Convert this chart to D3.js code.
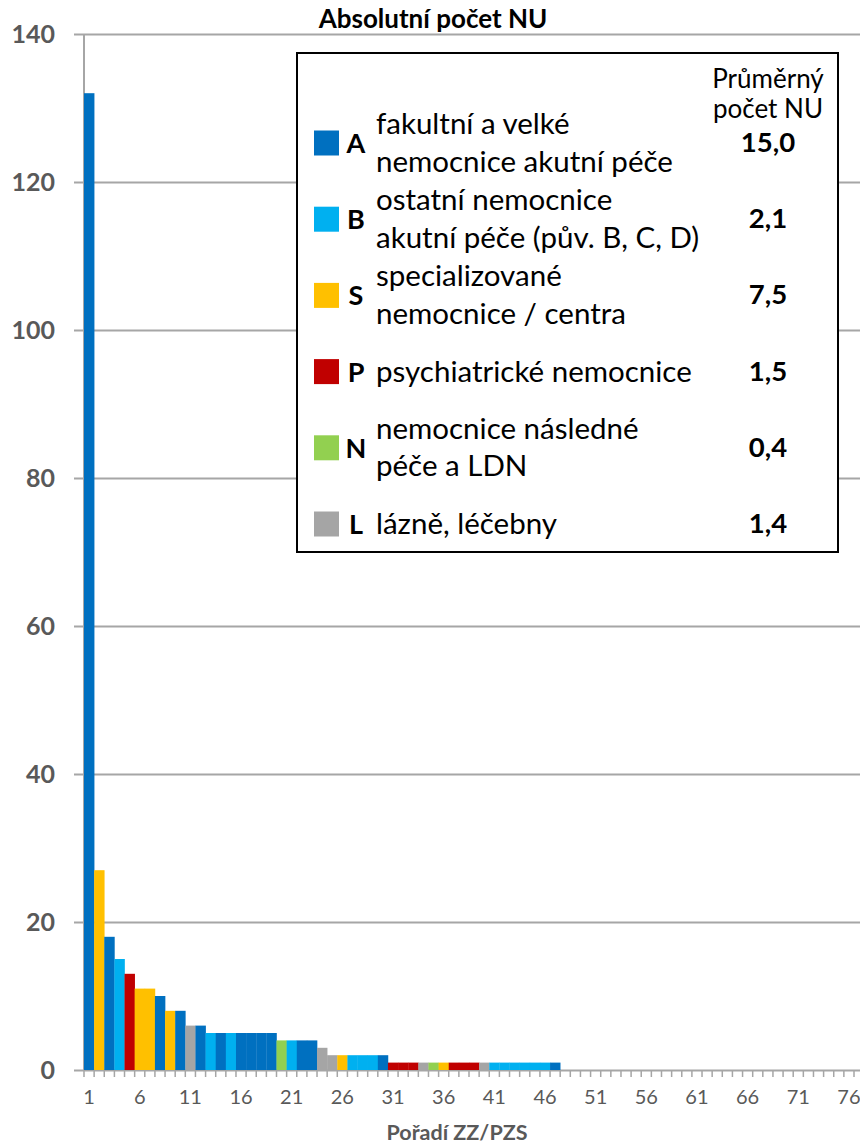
<!DOCTYPE html>
<html>
<head>
<meta charset="utf-8">
<script src="https://cdn.jsdelivr.net/npm/d3@7"></script>
<style>
    body { margin: 0; background: #fff; }
    svg { display: block; font-family: Lato, "Open Sans", sans-serif; }
</style>
</head>
<body>
<div id="chart"></div>
<script>
// values of the bars, in rank order (ranks 48-76 are zero)
const values = [132, 27, 18, 15, 13, 11, 11, 10, 8, 8,
    6, 6, 5, 5, 5, 5, 5, 5, 5, 4,
    4, 4, 4, 3, 2, 2, 2, 2, 2, 2,
    1, 1, 1, 1, 1, 1, 1, 1, 1, 1,
    1, 1, 1, 1, 1, 1, 1];
// hospital type of each bar
const types = ['A', 'S', 'A', 'B', 'P', 'S', 'S', 'A', 'S', 'A',
    'L', 'A', 'B', 'A', 'B', 'A', 'A', 'A', 'A', 'N',
    'B', 'A', 'A', 'L', 'L', 'S', 'B', 'B', 'B', 'A',
    'P', 'P', 'P', 'L', 'N', 'S', 'P', 'P', 'P', 'L',
    'B', 'B', 'B', 'B', 'B', 'B', 'A'];
const rankCount = 76;
const yTicks = [0, 20, 40, 60, 80, 100, 120, 140];

// legend
const legendKeys = ['A', 'B', 'S', 'P', 'N', 'L'];
const legendLabels = [
    ['fakultní a velké', 'nemocnice akutní péče'],
    ['ostatní nemocnice', 'akutní péče (pův. B, C, D)'],
    ['specializované', 'nemocnice / centra'],
    ['psychiatrické nemocnice'],
    ['nemocnice následné', 'péče a LDN'],
    ['lázně, léčebny']
];
const legendAverages = ['15,0', '2,1', '7,5', '1,5', '0,4', '1,4'];

const colors = {
    A: '#0070C0',
    B: '#00B0F0',
    S: '#FFC000',
    P: '#C00000',
    N: '#92D050',
    L: '#A5A5A5'
};

const w = 860, h = 1144;
const margin = {top: 34, right: 6, bottom: 74, left: 84};
const gridColor = '#a6a6a6',
    labelColor = '#595959';

const svg = d3.select('#chart')
    .append('svg')
    .attr('width', w)
    .attr('height', h);

const ranks = d3.range(1, rankCount + 1);

const xScale = d3.scaleBand()
    .domain(ranks)
    .range([margin.left, w - margin.right])
    .padding(0);

const yScale = d3.scaleLinear()
    .domain([0, 140])
    .range([h - margin.bottom, margin.top]);

// gridlines + y labels
const yAxis = d3.axisLeft(yScale)
    .tickValues(yTicks)
    .tickSize(-(w - margin.left + 10))
    .tickPadding(19)
    .tickFormat(d3.format('d'));

const gy = svg.append('g')
    .attr('transform', 'translate(' + (margin.left - 10) + ',0)')
    .call(yAxis);
gy.select('.domain').remove();
gy.selectAll('line')
    .attr('stroke', gridColor)
    .attr('stroke-width', 2);
gy.selectAll('text')
    .attr('fill', labelColor)
    .attr('font-size', 25)
    .attr('font-weight', 'bold')
    .attr('font-family', 'Lato, sans-serif');

// vertical axis line
svg.append('line')
    .attr('x1', margin.left).attr('x2', margin.left)
    .attr('y1', yScale(140)).attr('y2', yScale(0))
    .attr('stroke', gridColor)
    .attr('stroke-width', 2);

// bars
svg.append('g')
    .selectAll('rect')
    .data(values)
    .enter()
    .append('rect')
    .attr('x', (d, i) => xScale(i + 1))
    .attr('y', d => yScale(d))
    .attr('width', xScale.bandwidth() + 0.3)
    .attr('height', d => yScale(0) - yScale(d))
    .attr('fill', (d, i) => colors[types[i]]);

// x axis: tick marks between ranks, labels every 5
const tickPos = d3.range(0, rankCount + 1);
svg.append('g')
    .selectAll('line')
    .data(tickPos)
    .enter()
    .append('line')
    .attr('x1', d => margin.left + d * xScale.step())
    .attr('x2', d => margin.left + d * xScale.step())
    .attr('y1', yScale(0))
    .attr('y2', yScale(0) + 7)
    .attr('stroke', gridColor)
    .attr('stroke-width', 1.5);

const xLabels = ranks.filter(d => (d - 1) % 5 === 0);
svg.append('g')
    .selectAll('text')
    .data(xLabels)
    .enter()
    .append('text')
    .attr('x', d => xScale(d) + xScale.bandwidth() / 2)
    .attr('y', yScale(0) + 34)
    .attr('text-anchor', 'middle')
    .attr('fill', labelColor)
    .attr('font-size', 20)
    .text(d => d);

// titles
svg.append('text')
    .attr('x', 433)
    .attr('y', 28)
    .attr('text-anchor', 'middle')
    .attr('font-size', 26)
    .attr('font-weight', 'bold')
    .attr('fill', '#000')
    .text('Absolutní počet NU');

svg.append('text')
    .attr('x', 457)
    .attr('y', 1140)
    .attr('text-anchor', 'middle')
    .attr('font-size', 21.5)
    .attr('font-weight', 'bold')
    .attr('fill', labelColor)
    .text('Pořadí ZZ/PZS');

// legend box
const legend = svg.append('g');
legend.append('rect')
    .attr('x', 297)
    .attr('y', 53)
    .attr('width', 541)
    .attr('height', 499)
    .attr('fill', '#fff')
    .attr('stroke', '#000')
    .attr('stroke-width', 2);

legend.append('text')
    .attr('x', 768)
    .attr('y', 88)
    .attr('text-anchor', 'middle')
    .attr('font-size', 26)
    .attr('fill', '#000')
    .text('Průměrný');
legend.append('text')
    .attr('x', 768)
    .attr('y', 118)
    .attr('text-anchor', 'middle')
    .attr('font-size', 26)
    .attr('fill', '#000')
    .text('počet NU');

const legendY = d3.scalePoint()
    .domain(legendKeys)
    .range([143, 524]);

legendKeys.forEach((k, i) => {
    const cy = legendY(k);
    const row = legend.append('g');
    row.append('rect')
        .attr('x', 314)
        .attr('y', cy - 12.5)
        .attr('width', 25)
        .attr('height', 25)
        .attr('fill', colors[k]);
    row.append('text')
        .attr('x', 356)
        .attr('y', cy + 10)
        .attr('text-anchor', 'middle')
        .attr('font-size', 27)
        .attr('font-weight', 'bold')
        .attr('fill', '#000')
        .text(k);
    const lines = legendLabels[i];
    lines.forEach((t, j) => {
        const base = lines.length === 1 ? cy + 10 : cy - 9 + j * 37.5;
        row.append('text')
            .attr('x', 376)
            .attr('y', base)
            .attr('font-size', 29.5)
            .attr('fill', '#000')
            .text(t);
    });
    row.append('text')
        .attr('x', 768)
        .attr('y', cy + 9)
        .attr('text-anchor', 'middle')
        .attr('font-size', 27.5)
        .attr('font-weight', 'bold')
        .attr('fill', '#000')
        .text(legendAverages[i]);
});
</script>
</body>
</html>
